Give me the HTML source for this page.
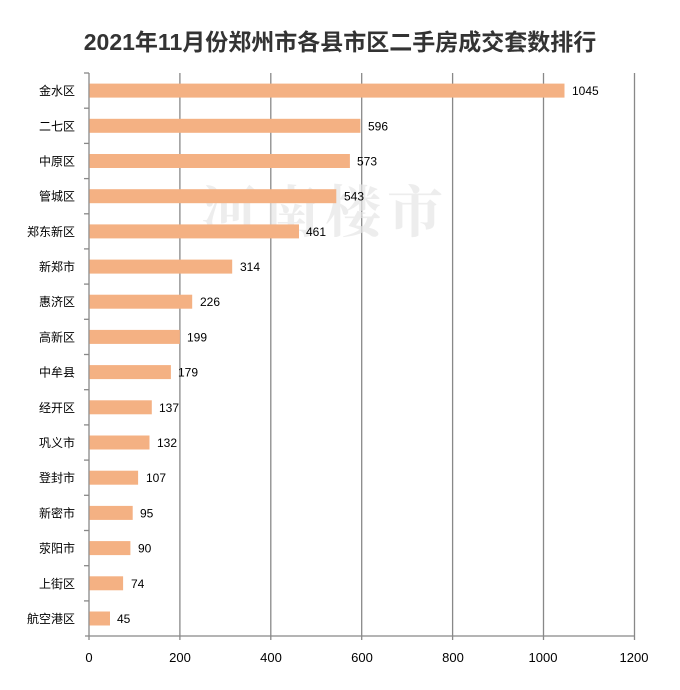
<!DOCTYPE html>
<html><head><meta charset="utf-8"><style>
body{margin:0;background:#fff;}
svg{display:block;}
</style></head><body>
<svg width="680" height="690" xmlns="http://www.w3.org/2000/svg" font-family="Liberation Sans, Noto Sans CJK SC, sans-serif">
<rect width="680" height="690" fill="#fff"/>
<text x="340" y="50" text-anchor="middle" font-size="23" font-weight="bold" fill="#333">2021年11月份郑州市各县市区二手房成交套数排行</text>
<g stroke="#888" stroke-width="1.3">
<line x1="179.9" y1="73" x2="179.9" y2="640"/>
<line x1="270.8" y1="73" x2="270.8" y2="640"/>
<line x1="361.7" y1="73" x2="361.7" y2="640"/>
<line x1="452.6" y1="73" x2="452.6" y2="640"/>
<line x1="543.5" y1="73" x2="543.5" y2="640"/>
<line x1="634.5" y1="73" x2="634.5" y2="640"/>
<line x1="89" y1="73" x2="89" y2="640"/>
<line x1="85" y1="636" x2="634.5" y2="636"/>
<line x1="84" y1="73" x2="89" y2="73"/><line x1="84" y1="108.2" x2="89" y2="108.2"/><line x1="84" y1="143.4" x2="89" y2="143.4"/><line x1="84" y1="178.6" x2="89" y2="178.6"/><line x1="84" y1="213.8" x2="89" y2="213.8"/><line x1="84" y1="248.9" x2="89" y2="248.9"/><line x1="84" y1="284.1" x2="89" y2="284.1"/><line x1="84" y1="319.3" x2="89" y2="319.3"/><line x1="84" y1="354.5" x2="89" y2="354.5"/><line x1="84" y1="389.7" x2="89" y2="389.7"/><line x1="84" y1="424.9" x2="89" y2="424.9"/><line x1="84" y1="460.1" x2="89" y2="460.1"/><line x1="84" y1="495.3" x2="89" y2="495.3"/><line x1="84" y1="530.5" x2="89" y2="530.5"/><line x1="84" y1="565.7" x2="89" y2="565.7"/><line x1="84" y1="600.9" x2="89" y2="600.9"/>
</g>
<text x="325" y="232" text-anchor="middle" font-size="56" font-weight="bold" fill="#e6e6e6" fill-opacity="0.7" letter-spacing="6" font-family="Noto Serif CJK SC, serif">河南楼市</text>
<g font-size="12" fill="#000">
<g transform="translate(0,90.6)"><rect x="89.5" y="-7" width="475" height="14" fill="#f4b183"/><text x="75" y="4.5" text-anchor="end">金水区</text><text x="572" y="4.5">1045</text></g>
<g transform="translate(0,125.8)"><rect x="89.5" y="-7" width="270.9" height="14" fill="#f4b183"/><text x="75" y="4.5" text-anchor="end">二七区</text><text x="368" y="4.5">596</text></g>
<g transform="translate(0,161)"><rect x="89.5" y="-7" width="260.4" height="14" fill="#f4b183"/><text x="75" y="4.5" text-anchor="end">中原区</text><text x="357" y="4.5">573</text></g>
<g transform="translate(0,196.2)"><rect x="89.5" y="-7" width="246.8" height="14" fill="#f4b183"/><text x="75" y="4.5" text-anchor="end">管城区</text><text x="344" y="4.5">543</text></g>
<g transform="translate(0,231.4)"><rect x="89.5" y="-7" width="209.5" height="14" fill="#f4b183"/><text x="75" y="4.5" text-anchor="end">郑东新区</text><text x="306" y="4.5">461</text></g>
<g transform="translate(0,266.6)"><rect x="89.5" y="-7" width="142.7" height="14" fill="#f4b183"/><text x="75" y="4.5" text-anchor="end">新郑市</text><text x="240" y="4.5">314</text></g>
<g transform="translate(0,301.7)"><rect x="89.5" y="-7" width="102.7" height="14" fill="#f4b183"/><text x="75" y="4.5" text-anchor="end">惠济区</text><text x="200" y="4.5">226</text></g>
<g transform="translate(0,336.9)"><rect x="89.5" y="-7" width="90.4" height="14" fill="#f4b183"/><text x="75" y="4.5" text-anchor="end">高新区</text><text x="187" y="4.5">199</text></g>
<g transform="translate(0,372.1)"><rect x="89.5" y="-7" width="81.4" height="14" fill="#f4b183"/><text x="75" y="4.5" text-anchor="end">中牟县</text><text x="178" y="4.5">179</text></g>
<g transform="translate(0,407.3)"><rect x="89.5" y="-7" width="62.3" height="14" fill="#f4b183"/><text x="75" y="4.5" text-anchor="end">经开区</text><text x="159" y="4.5">137</text></g>
<g transform="translate(0,442.5)"><rect x="89.5" y="-7" width="60" height="14" fill="#f4b183"/><text x="75" y="4.5" text-anchor="end">巩义市</text><text x="157" y="4.5">132</text></g>
<g transform="translate(0,477.7)"><rect x="89.5" y="-7" width="48.6" height="14" fill="#f4b183"/><text x="75" y="4.5" text-anchor="end">登封市</text><text x="146" y="4.5">107</text></g>
<g transform="translate(0,512.9)"><rect x="89.5" y="-7" width="43.2" height="14" fill="#f4b183"/><text x="75" y="4.5" text-anchor="end">新密市</text><text x="140" y="4.5">95</text></g>
<g transform="translate(0,548.1)"><rect x="89.5" y="-7" width="40.9" height="14" fill="#f4b183"/><text x="75" y="4.5" text-anchor="end">荥阳市</text><text x="138" y="4.5">90</text></g>
<g transform="translate(0,583.3)"><rect x="89.5" y="-7" width="33.6" height="14" fill="#f4b183"/><text x="75" y="4.5" text-anchor="end">上街区</text><text x="131" y="4.5">74</text></g>
<g transform="translate(0,618.5)"><rect x="89.5" y="-7" width="20.5" height="14" fill="#f4b183"/><text x="75" y="4.5" text-anchor="end">航空港区</text><text x="117" y="4.5">45</text></g>
</g>
<g font-size="13" fill="#000" text-anchor="middle">
<text x="89" y="662">0</text><text x="180" y="662">200</text><text x="271" y="662">400</text><text x="362" y="662">600</text><text x="453" y="662">800</text><text x="543" y="662">1000</text><text x="634" y="662">1200</text>
</g>
</svg>
</body></html>
